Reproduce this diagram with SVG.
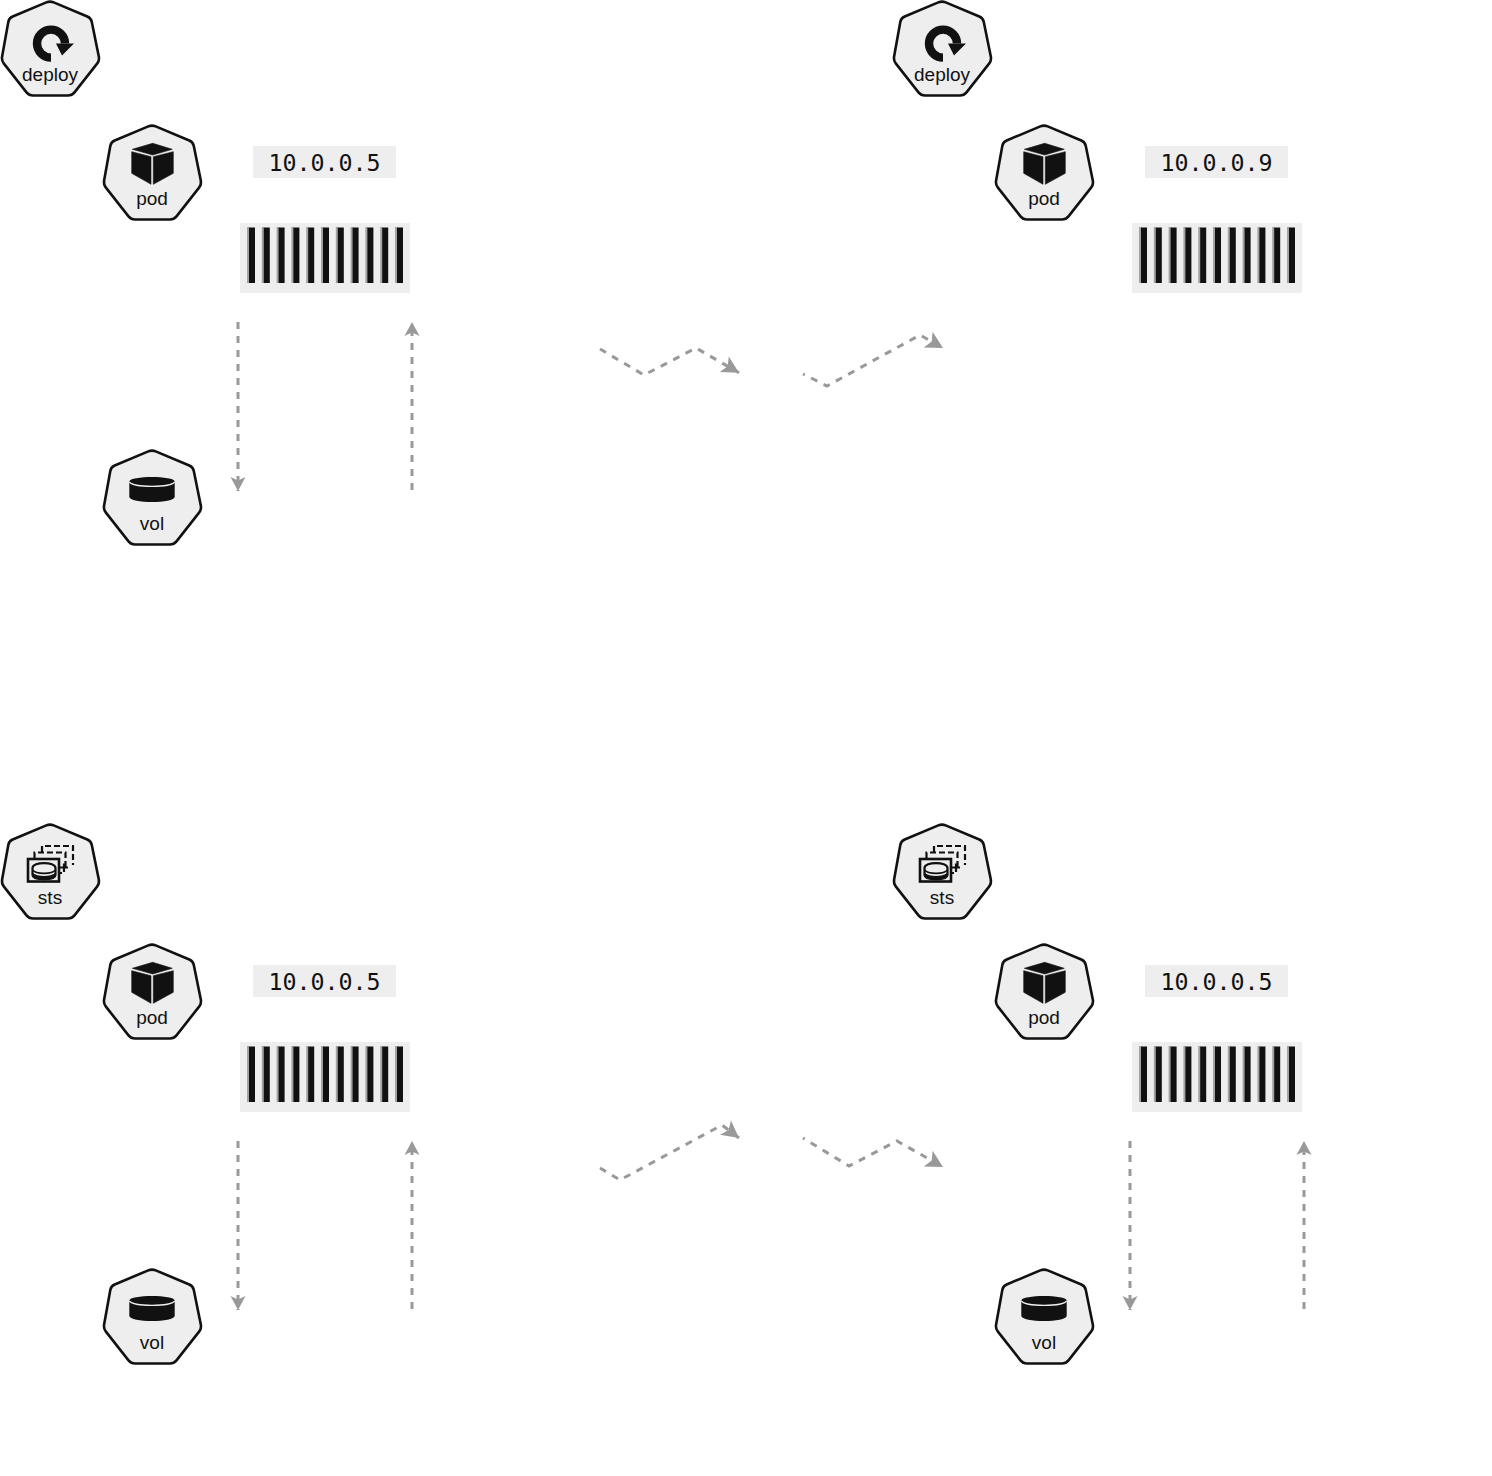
<svg xmlns="http://www.w3.org/2000/svg" width="1492" height="1476" viewBox="0 0 1492 1476">
<style>
.hex{fill:#eeeeee;stroke:#111111;stroke-width:2.6;stroke-linejoin:round}
.lbl{font-family:"Liberation Sans",Arial,sans-serif;font-size:19px;fill:#111111;text-anchor:middle}
.ip{font-family:"DejaVu Sans Mono","Liberation Mono",monospace;font-size:23.3px;fill:#111111;text-anchor:middle}
.box{fill:#eeeeee}
.bar{fill:#111111;stroke:none}
.edge{fill:#a3a3a3}
.c{fill:none;stroke:#999999;stroke-width:3;stroke-dasharray:7 7}
.v{marker-end:url(#ah)}
.z{marker-end:url(#az)}
.s{stroke-dashoffset:5}
</style>
<defs>
<marker id="ah" markerUnits="userSpaceOnUse" markerWidth="18" markerHeight="18" refX="14" refY="8" orient="auto" overflow="visible"><path d="M0 0.5L14 8L0 15.5L3.5 8Z" fill="#999999"/></marker>
<marker id="az" markerUnits="userSpaceOnUse" markerWidth="22" markerHeight="22" refX="17" refY="9" orient="auto" overflow="visible"><path d="M0 0L17 9L0 18L4 9Z" fill="#999999"/></marker>
<path id="hept" class="hex" d="M46.3 2.35Q50 0.8 53.7 2.35L87.3 16.45Q91 18 91.8 21.9L98.8 56.6Q99.6 60.500 97.1 63.600L74.5 92.4Q72 95.5 68 95.5L33 95.5Q29 95.5 26.5 92.4L3.9 63.600Q1.4 60.500 2.1 56.6L8.300 21.9Q9 18 12.700 16.45Z"/>
<g id="ico-deploy">
<path d="M51 57.6A14 14 0 1 1 65 43.6" fill="none" stroke="#111111" stroke-width="8.4"/>
<polygon points="56,43.5 74,43.5 62,55.5" fill="#111111"/>
</g>
<g id="ico-pod" fill="#111111" stroke="#111111" stroke-width="0.6" stroke-linejoin="round">
<polygon points="50.7,19.3 70.3,25.3 50.7,31 30.3,25.3"/>
<polygon points="29.700,27.7 49,32.7 49,60.3 29.700,49.3"/>
<polygon points="51.3,32.7 71.3,27.7 71.3,49.3 51.3,60.3"/>
</g>
<g id="ico-vol">
<path d="M27.300 32.7C27.300 26.500 72.700 26.500 72.700 32.7V47.7C72.700 54.700 27.300 54.700 27.300 47.7Z" fill="#111111"/>
<path d="M27.300 33C32 38.800 68 38.800 72.700 33" fill="none" stroke="#eeeeee" stroke-width="1.2"/>
</g>
<g id="ico-sts">
<path d="M42 29V23H73V42" fill="none" stroke="#111111" stroke-width="2.2" stroke-dasharray="6 3"/>
<path d="M34.500 35V29.500H65.500V45" fill="none" stroke="#111111" stroke-width="2.2" stroke-dasharray="6 3"/>
<rect x="28" y="36" width="31" height="22.500" fill="#eeeeee" stroke="#111111" stroke-width="2.600"/>
<path d="M32.500 45C32.500 38.500 55.500 38.500 55.500 45V52C55.500 57.500 32.500 57.500 32.500 52Z" fill="#eeeeee" stroke="#111111" stroke-width="2.200"/>
<path d="M32.500 47C36 51.500 52 51.500 55.500 47" fill="none" stroke="#111111" stroke-width="1.600"/>
<path d="M33 50C37 54 51 54 55 50V52C55 56.500 33 56.500 33 52Z" fill="#111111"/>
<path d="M59 44.500H68M64 40.500V49M59 50H62" fill="none" stroke="#111111" stroke-width="2.200"/>
</g>
<g id="barcode">
<rect class="box" x="240" y="223" width="170" height="70"/>
<g id="bars">
<rect class="edge" x="247" y="227" width="2.500" height="56"/><rect class="bar" x="249" y="227.500" width="6" height="55.500"/>
<rect class="edge" x="261.800" y="227" width="2.500" height="56"/><rect class="bar" x="263.800" y="227.500" width="6" height="55.500"/>
<rect class="edge" x="276.600" y="227" width="2.500" height="56"/><rect class="bar" x="278.600" y="227.500" width="6" height="55.500"/>
<rect class="edge" x="291.400" y="227" width="2.500" height="56"/><rect class="bar" x="293.400" y="227.500" width="6" height="55.500"/>
<rect class="edge" x="306.200" y="227" width="2.500" height="56"/><rect class="bar" x="308.200" y="227.500" width="6" height="55.500"/>
<rect class="edge" x="321" y="227" width="2.500" height="56"/><rect class="bar" x="323" y="227.500" width="6" height="55.500"/>
<rect class="edge" x="335.800" y="227" width="2.500" height="56"/><rect class="bar" x="337.800" y="227.500" width="6" height="55.500"/>
<rect class="edge" x="350.600" y="227" width="2.500" height="56"/><rect class="bar" x="352.600" y="227.500" width="6" height="55.500"/>
<rect class="edge" x="365.400" y="227" width="2.500" height="56"/><rect class="bar" x="367.400" y="227.500" width="6" height="55.500"/>
<rect class="edge" x="380.200" y="227" width="2.500" height="56"/><rect class="bar" x="382.200" y="227.500" width="6" height="55.500"/>
<rect class="edge" x="395" y="227" width="2.500" height="56"/><rect class="bar" x="397" y="227.500" width="6" height="55.500"/>
</g>
</g>
<rect id="ipbox" class="box" x="253" y="146" width="143" height="32"/>
</defs>

<g id="connectors">
<path class="c v" d="M238 322V491"/>
<path class="c v" d="M412 490V322"/>
<path class="c z" d="M600 349L644 375L696 348L739 372.700"/>
<path class="c z s" d="M803 374L827 386L920 335L943 348"/>
<path class="c v" d="M238 1141V1310"/>
<path class="c v" d="M412 1309V1141"/>
<path class="c z" d="M600 1168L620 1180L722 1125L739 1138"/>
<path class="c z s" d="M803 1138L849 1166L897 1141L943 1167"/>
<path class="c v" d="M1130 1141V1310"/>
<path class="c v" d="M1304 1309V1141"/>
</g>

<g id="deploy-a"><use href="#hept"/><use href="#ico-deploy"/><text class="lbl" x="50" y="80.500">deploy</text></g>
<g id="pod-a" transform="translate(102 124)"><use href="#hept"/><use href="#ico-pod"/><text class="lbl" x="50" y="80.500">pod</text></g>
<g id="ip-a"><use href="#ipbox"/><text class="ip" x="324.500" y="170.500">10.0.0.5</text></g>
<g id="container-a"><use href="#barcode"/></g>
<g id="vol-a" transform="translate(102 449)"><use href="#hept"/><use href="#ico-vol"/><text class="lbl" x="50" y="80.500">vol</text></g>

<g id="deploy-b" transform="translate(892 0)"><use href="#hept"/><use href="#ico-deploy"/><text class="lbl" x="50" y="80.500">deploy</text></g>
<g id="pod-b" transform="translate(994 124)"><use href="#hept"/><use href="#ico-pod"/><text class="lbl" x="50" y="80.500">pod</text></g>
<g id="ip-b" transform="translate(892 0)"><use href="#ipbox"/><text class="ip" x="324.500" y="170.500">10.0.0.9</text></g>
<g id="container-b" transform="translate(892 0)"><use href="#barcode"/></g>

<g id="sts-c" transform="translate(0 823)"><use href="#hept"/><use href="#ico-sts"/><text class="lbl" x="50" y="80.500">sts</text></g>
<g id="pod-c" transform="translate(102 943)"><use href="#hept"/><use href="#ico-pod"/><text class="lbl" x="50" y="80.500">pod</text></g>
<g id="ip-c" transform="translate(0 819)"><use href="#ipbox"/><text class="ip" x="324.500" y="170.500">10.0.0.5</text></g>
<g id="container-c" transform="translate(0 819)"><use href="#barcode"/></g>
<g id="vol-c" transform="translate(102 1268)"><use href="#hept"/><use href="#ico-vol"/><text class="lbl" x="50" y="80.500">vol</text></g>

<g id="sts-d" transform="translate(892 823)"><use href="#hept"/><use href="#ico-sts"/><text class="lbl" x="50" y="80.500">sts</text></g>
<g id="pod-d" transform="translate(994 943)"><use href="#hept"/><use href="#ico-pod"/><text class="lbl" x="50" y="80.500">pod</text></g>
<g id="ip-d" transform="translate(892 819)"><use href="#ipbox"/><text class="ip" x="324.500" y="170.500">10.0.0.5</text></g>
<g id="container-d" transform="translate(892 819)"><use href="#barcode"/></g>
<g id="vol-d" transform="translate(994 1268)"><use href="#hept"/><use href="#ico-vol"/><text class="lbl" x="50" y="80.500">vol</text></g>
</svg>
